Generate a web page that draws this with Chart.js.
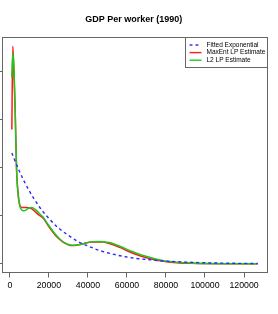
<!DOCTYPE html>
<html><head><meta charset="utf-8">
<script src="https://cdn.jsdelivr.net/npm/chart.js@4.4.1/dist/chart.umd.min.js"></script>
<style>html,body{margin:0;padding:0;background:#fff;overflow:hidden}</style>
</head><body>
<canvas id="c" width="278" height="314"></canvas>
<script>
const titleText = "GDP Per worker (1990)";
const seriesNames = ["Fitted Exponential", "MaxEnt LP Estimate", "L2 LP Estimate"];
const seriesColors = ["#2a2aff", "#ff1a1a", "#1ec81e"];
const xTicks = [0, 20000, 40000, 60000, 80000, 100000, 120000];
const yTicks = [0, 1, 2, 3, 4];

const gridX = [1000, 1500, 2000, 2700, 3400, 4300, 5100, 6200, 7500, 8700, 10000, 11300, 13000, 15000, 17000, 19500, 22000, 24000, 26000, 28000, 31000, 33000, 36000, 39000, 42000, 45000, 48000, 51000, 54000, 57000, 60000, 63000, 67000, 72000, 77000, 82000, 87000, 92000, 97000, 105000, 113000, 120000, 127000];
const maxEntY = [2.79, 4.52, 4.05, 3.21, 2.0, 1.43, 1.22, 1.17, 1.17, 1.17, 1.16, 1.14, 1.08, 1.01, 0.95, 0.80, 0.66, 0.56, 0.49, 0.43, 0.38, 0.38, 0.40, 0.43, 0.45, 0.455, 0.45, 0.42, 0.38, 0.33, 0.27, 0.22, 0.16, 0.105, 0.062, 0.033, 0.018, 0.010, 0.006, 0.003, 0.002, 0.001, 0.001];
const l2Y = [3.87, 4.38, 4.15, 3.2, 1.98, 1.40, 1.20, 1.11, 1.10, 1.13, 1.16, 1.17, 1.13, 1.05, 0.97, 0.82, 0.68, 0.58, 0.50, 0.44, 0.39, 0.385, 0.40, 0.43, 0.455, 0.465, 0.46, 0.44, 0.40, 0.355, 0.30, 0.25, 0.19, 0.13, 0.08, 0.045, 0.025, 0.014, 0.008, 0.004, 0.002, 0.001, 0.001];
const expX = [1000, 5000, 10000, 15000, 20000, 25000, 30000, 35000, 40000, 45000, 50000, 55000, 60000, 65000, 70000, 80000, 90000, 100000, 110000, 127000];
const expY = [2.30, 1.91, 1.51, 1.19, 0.94, 0.74, 0.59, 0.46, 0.37, 0.29, 0.23, 0.18, 0.14, 0.11, 0.09, 0.055, 0.035, 0.02, 0.013, 0.005];

const FONT = "'Liberation Sans', Arial, Helvetica, sans-serif";
const AXIS = "#666";

const pts = (xs, ys) => xs.map((x, i) => ({x: x, y: ys[i]}));

const boxPlugin = {
  id: 'rbox',
  afterDraw(chart) {
    const ctx = chart.ctx, a = chart.chartArea;
    ctx.save();
    ctx.strokeStyle = AXIS;
    ctx.lineWidth = 1;
    ctx.strokeRect(Math.round(a.left) + 0.5, Math.round(a.top) + 0.5, Math.round(a.right - a.left) - 1, Math.round(a.bottom - a.top) - 1);
    // legend
    const w = 82.5, h = 30;
    const lx = a.right - w, ly = a.top;
    ctx.fillStyle = '#fff';
    ctx.fillRect(lx, ly, w, h);
    ctx.strokeRect(Math.round(lx) + 0.5, Math.round(ly) + 0.5, Math.round(w) - 1, h);
    const dsets = chart.data.datasets;
    ctx.font = "6.5px " + FONT;
    ctx.textBaseline = 'middle';
    ctx.textAlign = 'left';
    dsets.forEach((ds, i) => {
      const y = ly + 8 + i * 7.6;
      ctx.beginPath();
      ctx.strokeStyle = ds.borderColor;
      ctx.lineWidth = 1.4;
      ctx.setLineDash(ds.borderDash || []);
      ctx.moveTo(lx + 4.5, y);
      ctx.lineTo(lx + 16.5, y);
      ctx.stroke();
      ctx.setLineDash([]);
      ctx.fillStyle = '#000';
      ctx.fillText(ds.label, lx + 21.5, y);
    });
    ctx.restore();
  }
};

new Chart(document.getElementById('c'), {
  type: 'line',
  data: {
    datasets: [
      {label: seriesNames[0], data: pts(expX, expY), borderColor: seriesColors[0], borderWidth: 1.4, borderDash: [3, 3], pointRadius: 0, cubicInterpolationMode: 'monotone', fill: false, order: 0},
      {label: seriesNames[1], data: pts(gridX, maxEntY), borderColor: seriesColors[1], borderWidth: 1.5, pointRadius: 0, cubicInterpolationMode: 'monotone', fill: false, order: 2},
      {label: seriesNames[2], data: pts(gridX, l2Y), borderColor: seriesColors[2], borderWidth: 1.5, pointRadius: 0, cubicInterpolationMode: 'monotone', fill: false, order: 1}
    ]
  },
  options: {
    responsive: false,
    animation: false,
    devicePixelRatio: 1,
    layout: {padding: {left: 0, right: 10.5, top: 0, bottom: 20}},
    plugins: {
      legend: {display: false},
      tooltip: {enabled: false},
      title: {display: true, text: titleText, color: '#000', font: {family: FONT, size: 9, weight: 'bold'}, padding: {top: 13.9, bottom: 12.3}}
    },
    scales: {
      x: {
        type: 'linear', min: -4040, max: 132040,
        border: {display: false},
        grid: {display: true, drawOnChartArea: false, drawTicks: true, tickLength: 5, color: AXIS},
        afterBuildTicks: s => { s.ticks = xTicks.map(v => ({value: v})); },
        ticks: {color: '#000', font: {family: FONT, size: 8.75}, padding: 3, maxRotation: 0, autoSkip: false, callback: v => String(v)}
      },
      y: {
        type: 'linear', min: -0.181, max: 4.71,
        border: {display: false},
        grid: {display: true, drawOnChartArea: false, drawTicks: true, tickLength: 2, color: AXIS},
        afterBuildTicks: s => { s.ticks = yTicks.map(v => ({value: v})); },
        ticks: {display: false}
      }
    }
  },
  plugins: [boxPlugin]
});
</script>
</body></html>
